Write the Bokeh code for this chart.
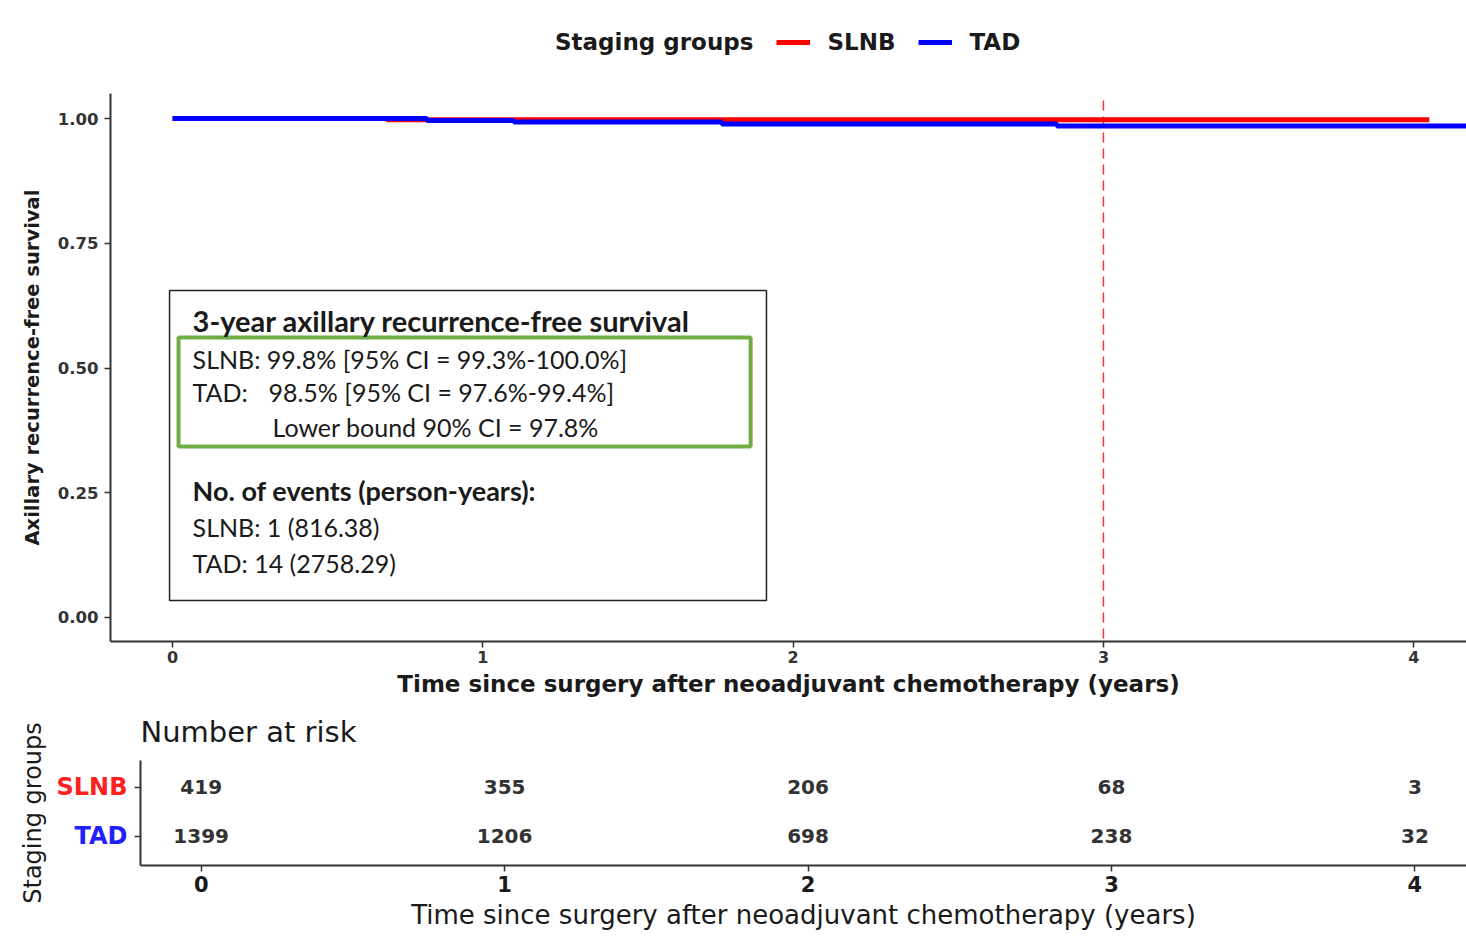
from bokeh.plotting import figure
from bokeh.models import (Range1d, FixedTicker, Legend, LegendItem,
                          NumeralTickFormatter, Title)
from bokeh.layouts import column, row
from bokeh.embed import file_html
from bokeh.resources import INLINE
from bokeh.core.properties import value

# ---------------- data ----------------
groups = ["SLNB", "TAD"]
group_colors = ["#FF0000", "#0000FF"]

# Kaplan-Meier step curves (time in years, survival probability)
slnb_time = [0.0, 0.69, 4.05]
slnb_surv = [1.0, 0.9976, 0.9976]
tad_time = [0.0, 0.82, 1.10, 1.77, 2.85, 4.17]
tad_surv = [1.0, 0.9962, 0.9928, 0.9892, 0.9848, 0.9848]

landmark_year = 3

# number at risk table
risk_times = [0, 1, 2, 3, 4]
risk_slnb = [419, 355, 206, 68, 3]
risk_tad = [1399, 1206, 698, 238, 32]

y_ticks = [0, 0.25, 0.5, 0.75, 1.0]
x_ticks = [0, 1, 2, 3, 4]

legend_title = "Staging groups"
x_title = "Time since surgery after neoadjuvant chemotherapy (years)"
y_title = "Axillary recurrence-free survival"
risk_title = "Number at risk"

box_heading = "3-year axillary recurrence-free survival"
box_slnb_line = "SLNB: 99.8% [95% CI = 99.3%-100.0%]"
box_tad_label = "TAD:"
box_tad_line = "98.5% [95% CI = 97.6%-99.4%]"
box_lower_bound = "Lower bound 90% CI = 97.8%"
events_heading = "No. of events (person-years):"
events_slnb = "SLNB: 1 (816.38)"
events_tad = "TAD: 14 (2758.29)"

# ---------------- styling helpers ----------------
AX_FONT = "DejaVu Sans"
AX_COLOR = "#333333"
TXT = "#1a1a1a"
X_RANGE = (-0.2, 4.17)
Y_LIMITS = (-0.0481, 1.0501)


def style_axis(ax):
    ax.axis_line_color = AX_COLOR
    ax.axis_line_width = 2
    ax.major_tick_line_color = AX_COLOR
    ax.major_tick_line_width = 1.5
    ax.major_tick_out = 6
    ax.major_tick_in = 0
    ax.minor_tick_line_color = None
    ax.major_label_text_font = AX_FONT
    ax.axis_label_text_font = AX_FONT


# ---------------- survival panel ----------------
# the frame reaches the top of the canvas so the legend can sit above the
# drawn y axis, whose line is limited with bounds
p = figure(width=1466, height=700,
           x_range=Range1d(*X_RANGE), y_range=Range1d(Y_LIMITS[0], 1.2365),
           output_backend="svg", toolbar_location=None,
           min_border_left=110, min_border_right=0,
           min_border_top=0, min_border_bottom=59)
p.outline_line_color = None
p.grid.visible = False

for ax in (p.xaxis[0], p.yaxis[0]):
    style_axis(ax)

p.xaxis.ticker = FixedTicker(ticks=x_ticks)
p.xaxis.major_label_text_font_size = "16px"
p.xaxis.major_label_text_font_style = "bold"
p.xaxis.major_label_text_color = AX_COLOR
p.xaxis.major_label_standoff = 3
p.xaxis.axis_label = x_title
p.xaxis.axis_label_text_font_size = "23px"
p.xaxis.axis_label_text_font_style = "bold"
p.xaxis.axis_label_text_color = TXT
p.xaxis.axis_label_standoff = 5

p.yaxis.bounds = Y_LIMITS
p.yaxis.ticker = FixedTicker(ticks=y_ticks)
p.yaxis.formatter = NumeralTickFormatter(format="0.00")
p.yaxis.major_label_text_font_size = "16.5px"
p.yaxis.major_label_text_font_style = "bold"
p.yaxis.major_label_text_color = AX_COLOR
p.yaxis.major_label_standoff = 6

# y title as a side title, so it can be centred on the bounded axis
y_lab = Title(text=y_title, align="left", offset=96, standoff=22,
              text_font=AX_FONT, text_font_size="19.5px",
              text_font_style="bold", text_color=TXT)
p.add_layout(y_lab, "left")

# landmark at 3 years
p.line([landmark_year, landmark_year], [1.036, Y_LIMITS[0]],
       line_color="#FF3030", line_width=1.5, line_dash="10 6")

# KM curves: SLNB first, TAD drawn over it
r_slnb = p.step(slnb_time, slnb_surv, mode="after",
                line_color=group_colors[0], line_width=5)
r_tad = p.step(tad_time, tad_surv, mode="after",
               line_color=group_colors[1], line_width=5)
r_hdr = p.line([0], [1], line_alpha=0)

legend = Legend(items=[LegendItem(label=legend_title, renderers=[r_hdr]),
                       LegendItem(label=groups[0], renderers=[r_slnb]),
                       LegendItem(label=groups[1], renderers=[r_tad])],
                orientation="horizontal", location=(394, 586),
                label_text_font=AX_FONT, label_text_font_style="bold",
                label_text_font_size="23px", label_text_color=TXT,
                glyph_width=34, glyph_height=24, label_standoff=17,
                spacing=23, padding=0, margin=0,
                border_line_color=None, background_fill_alpha=0)
p.add_layout(legend)

# annotation box
p.quad(left=[-0.0097], right=[1.914], top=[0.6553], bottom=[0.0341],
       fill_color="white", line_color="#222222", line_width=1.5)
p.quad(left=[0.0193], right=[1.863], top=[0.5611], bottom=[0.3427],
       fill_color=None, line_color="#6FAC46", line_width=4)

BOX_FONT = value("Lato")
p.text(x=[0.0645], y=[0.5952], text=[box_heading],
       text_font=BOX_FONT, text_font_size="29px", text_font_style="bold",
       text_color=TXT, text_baseline="middle", text_align="left")
p.text(x=[0.0645], y=[0.2545], text=[events_heading],
       text_font=BOX_FONT, text_font_size="27px", text_font_style="bold",
       text_color=TXT, text_baseline="middle", text_align="left")
p.text(x=[0.0645, 0.0645, 0.309, 0.322, 0.0645, 0.0645],
       y=[0.519, 0.4529, 0.4529, 0.3808, 0.1804, 0.1102],
       text=[box_slnb_line, box_tad_label, box_tad_line, box_lower_bound,
             events_slnb, events_tad],
       text_font=BOX_FONT, text_font_size="25px",
       text_color=TXT, text_baseline="middle", text_align="left")

# ---------------- risk table ----------------
RISK_Y = (0.408, 2.551)
row_y = {groups[0]: 2, groups[1]: 1}

q = figure(width=1332, height=238,
           x_range=Range1d(*X_RANGE), y_range=Range1d(*RISK_Y),
           output_backend="svg", toolbar_location=None,
           min_border_left=6, min_border_right=0,
           min_border_top=60, min_border_bottom=73,
           title=risk_title)
q.outline_line_color = None
q.grid.visible = False
q.title.text_font = AX_FONT
q.title.text_font_size = "29px"
q.title.text_font_style = "normal"
q.title.text_color = TXT
q.title.align = "left"
q.title.standoff = 24

for ax in (q.xaxis[0], q.yaxis[0]):
    style_axis(ax)

q.xaxis.ticker = FixedTicker(ticks=x_ticks)
q.xaxis.major_label_text_font_size = "21px"
q.xaxis.major_label_text_font_style = "bold"
q.xaxis.major_label_text_color = TXT
q.xaxis.major_label_standoff = 4
q.xaxis.axis_label = x_title
q.xaxis.axis_label_text_font_size = "26px"
q.xaxis.axis_label_text_font_style = "normal"
q.xaxis.axis_label_text_color = TXT
q.xaxis.axis_label_standoff = 5

q.yaxis.ticker = FixedTicker(ticks=list(row_y.values()))
q.yaxis.major_label_overrides = {v: "" for v in row_y.values()}
q.yaxis.major_label_text_font_size = "0px"
q.yaxis.major_label_standoff = 0

for name, counts in zip(groups, (risk_slnb, risk_tad)):
    q.text(x=risk_times, y=[row_y[name]] * len(risk_times),
           text=[str(c) for c in counts],
           text_font=value(AX_FONT), text_font_size="20px",
           text_font_style="bold", text_color=AX_COLOR,
           text_align="center", text_baseline="middle")

# left strip: coloured group names on the table's row scale, plus the
# rotated axis title
STRIP_LEFT = 50
strip = figure(width=134, height=238,
               x_range=Range1d(0, 134 - STRIP_LEFT), y_range=Range1d(*RISK_Y),
               output_backend="svg", toolbar_location=None,
               min_border_left=STRIP_LEFT, min_border_right=0,
               min_border_top=60, min_border_bottom=73)
strip.grid.visible = False
strip.outline_line_color = None
strip.xaxis.visible = False
sy = strip.yaxis[0]
sy.axis_line_color = None
sy.major_tick_line_color = None
sy.minor_tick_line_color = None
sy.major_label_text_font_size = "0px"
sy.major_label_standoff = 0
sy.ticker = FixedTicker(ticks=[])
sy.axis_label = legend_title
sy.axis_label_text_font = AX_FONT
sy.axis_label_text_font_size = "24px"
sy.axis_label_text_font_style = "normal"
sy.axis_label_text_color = TXT
sy.axis_label_standoff = 4

strip.text(x=[127 - STRIP_LEFT] * len(groups), y=[row_y[g] for g in groups],
           text=groups, text_color=["#FF2020", "#2020FF"],
           text_font=value(AX_FONT),
           text_font_size="24px", text_font_style="bold",
           text_align="right", text_baseline="middle")

layout = column(p, row(strip, q, spacing=0), spacing=0)
open("out.html", "w").write(file_html(layout, INLINE))
